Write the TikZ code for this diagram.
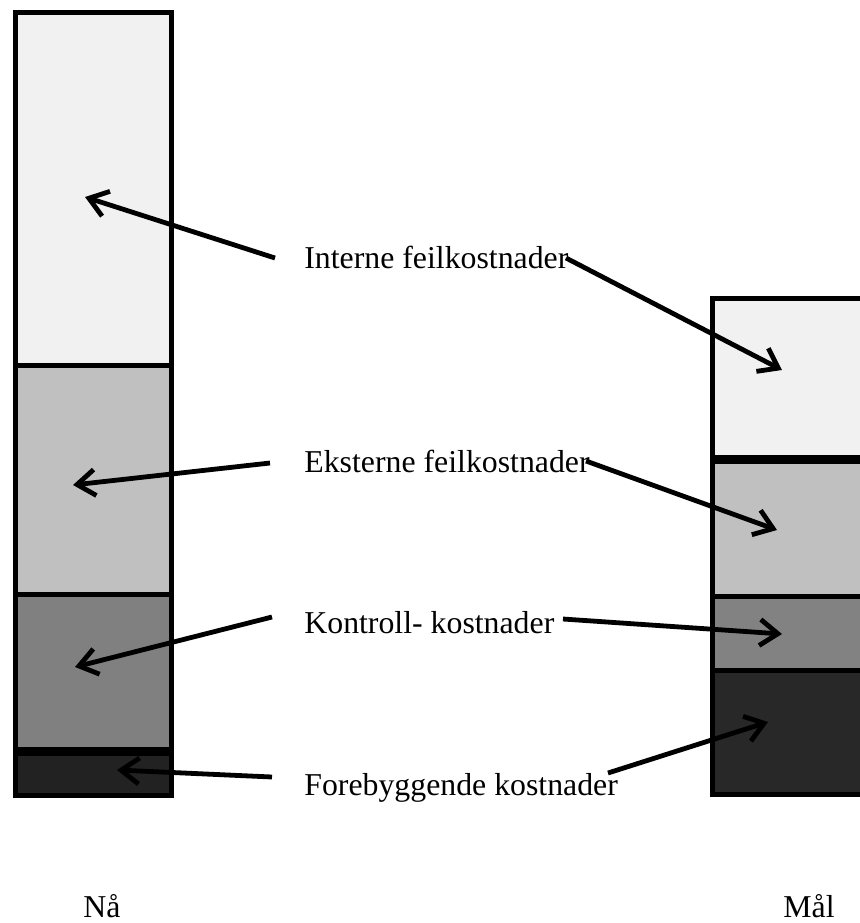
\documentclass[tikz,border=0pt]{standalone}
\usepackage{fontspec}
\setmainfont{Liberation Serif}
\usetikzlibrary{arrows.meta,shadows}
\begin{document}
\begin{tikzpicture}[x=0.5pt,y=-0.5pt,
  seg/.style={draw=black,line width=2.5pt,drop shadow={shadow xshift=0pt,shadow yshift=-1.5pt,opacity=0.3,fill=black}},
  lbl/.style={anchor=base west,inner sep=0pt,font=\fontsize{15.9}{18}\selectfont},
  arr/.style={line width=2.4pt,-{Straight Barb[length=9pt,width=13pt]}}]
\useasboundingbox (0,0) rectangle (860,923);
\begin{scope}
\clip (0,0) rectangle (860,923);
% left bar (Nå)
\path[seg,fill={rgb,255:red,241;green,241;blue,241}] (15,12) rectangle (171,365);
\path[seg,fill={rgb,255:red,192;green,192;blue,192}] (15,365) rectangle (171,594);
\path[seg,fill={rgb,255:red,128;green,128;blue,128}] (15,594) rectangle (171,749);
\path[seg,fill={rgb,255:red,34;green,34;blue,34}] (15,753) rectangle (171,795);
% right bar (Mål)
\path[seg,fill={rgb,255:red,241;green,241;blue,241}] (712,298) rectangle (880,457);
\path[seg,fill={rgb,255:red,192;green,192;blue,192}] (712,461) rectangle (880,596);
\path[seg,fill={rgb,255:red,130;green,130;blue,130}] (712,596) rectangle (880,670);
\path[seg,fill={rgb,255:red,40;green,40;blue,40}] (712,670) rectangle (880,794);
\end{scope}

% labels
\node[lbl] (int) at (304,268) {Interne feilkostnader};
\node[lbl] (eks) at (304,472) {Eksterne feilkostnader};
\node[lbl] (kon) at (304,633) {Kontroll- kostnader};
\node[lbl] (fore) at (304,795) {Forebyggende kostnader};
\node[lbl] (naa) at (83,917) {Nå};
\node[lbl] (maal) at (783,917) {Mål};

% arrow ends
\coordinate (intL) at (275,258);  \coordinate (intLt) at (85,197);
\coordinate (eksL) at (270,463);  \coordinate (eksLt) at (73,485);
\coordinate (konL) at (272,617);  \coordinate (konLt) at (75,667);
\coordinate (foreL) at (272,777); \coordinate (foreLt) at (117,770);
\coordinate (intR) at (566,258);  \coordinate (intRt) at (782,370);
\coordinate (eksR) at (586,461);  \coordinate (eksRt) at (777,530);
\coordinate (konR) at (563,619);  \coordinate (konRt) at (782,634);
\coordinate (foreR) at (608,773); \coordinate (foreRt) at (768,722);

\draw[arr] (intL) -- (intLt);
\draw[arr] (eksL) -- (eksLt);
\draw[arr] (konL) -- (konLt);
\draw[arr] (foreL) -- (foreLt);
\draw[arr] (intR) -- (intRt);
\draw[arr] (eksR) -- (eksRt);
\draw[arr] (konR) -- (konRt);
\draw[arr] (foreR) -- (foreRt);
\end{tikzpicture}
\end{document}
